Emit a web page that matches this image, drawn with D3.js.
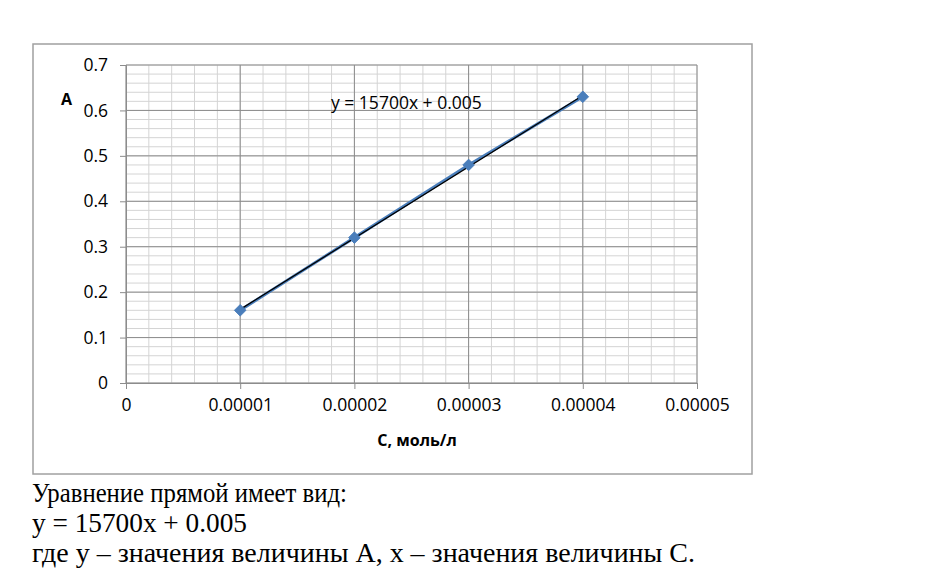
<!DOCTYPE html>
<html>
<head>
<meta charset="utf-8">
<script src="https://cdn.jsdelivr.net/npm/d3@7"></script>
<style>
  body { margin: 0; background: #fff; }
  svg text { font-family: "Open Sans", "Noto Sans", sans-serif; }
</style>
</head>
<body>
<svg id="chart" width="942" height="578"></svg>
<script>
// concentrations (моль/л) and absorbance
const concentrations = [0.00001, 0.00002, 0.00003, 0.00004];
const absorbance = [0.16, 0.32, 0.48, 0.63];
const xTicks = [0, 0.00001, 0.00002, 0.00003, 0.00004, 0.00005];
const xTickLabels = ["0", "0.00001", "0.00002", "0.00003", "0.00004", "0.00005"];
const yTicks = [0, 0.1, 0.2, 0.3, 0.4, 0.5, 0.6, 0.7];
const trendSlope = 15700;
const trendIntercept = 0.005;
const trendLabel = "y = 15700x + 0.005";
const bodyLines = [
    "Уравнение прямой имеет вид:",
    "y = 15700x + 0.005",
    "где y – значения величины A, x – значения величины C."
];
const bodyWidths = [315, 215, 663]; // measured line lengths in the picture

const svg = d3.select("#chart");

// outer chart frame
svg.append("rect")
    .attr("x", 33).attr("y", 44)
    .attr("width", 719).attr("height", 430)
    .attr("fill", "#fff")
    .attr("stroke", "#a0a0a0")
    .attr("stroke-width", 1.5);

const x = d3.scaleLinear().domain([0, 0.00005]).range([126, 697]);
const y = d3.scaleLinear().domain([0, 0.7]).range([383, 65]);

// minor grid
const minorX = d3.range(0, 26).map(i => i * 0.000002);
const minorY = d3.range(0, 36).map(i => i * 0.02);
const grid = svg.append("g");
grid.selectAll(".mx").data(minorX).enter().append("line")
    .attr("x1", d => x(d)).attr("x2", d => x(d))
    .attr("y1", y(0)).attr("y2", y(0.7))
    .attr("stroke", "#d4d4d4").attr("stroke-width", 1);
grid.selectAll(".my").data(minorY).enter().append("line")
    .attr("x1", x(0)).attr("x2", x(0.00005))
    .attr("y1", d => y(d)).attr("y2", d => y(d))
    .attr("stroke", "#d4d4d4").attr("stroke-width", 1);

// major grid
grid.selectAll(".Mx").data(xTicks).enter().append("line")
    .attr("x1", d => x(d)).attr("x2", d => x(d))
    .attr("y1", y(0)).attr("y2", y(0.7))
    .attr("stroke", "#8c8c8c").attr("stroke-width", 1);
grid.selectAll(".My").data(yTicks).enter().append("line")
    .attr("x1", x(0)).attr("x2", x(0.00005))
    .attr("y1", d => y(d)).attr("y2", d => y(d))
    .attr("stroke", "#8c8c8c").attr("stroke-width", 1);

// axes
const xAxis = svg.append("g")
    .attr("transform", `translate(0,${y(0)})`)
    .call(d3.axisBottom(x).tickValues(xTicks)
        .tickFormat((d, i) => xTickLabels[i]).tickSize(6).tickPadding(10));
const yAxis = svg.append("g")
    .attr("transform", `translate(${x(0)},0)`)
    .call(d3.axisLeft(y).tickValues(yTicks)
        .tickFormat(d => d === 0 ? "0" : d3.format(".1f")(d)).tickSize(6).tickPadding(12));
[xAxis, yAxis].forEach(a => {
    a.select(".domain").attr("stroke", "#8c8c8c");
    a.selectAll(".tick line").attr("stroke", "#8c8c8c");
    a.selectAll("text").attr("font-size", 17.5).attr("fill", "#000")
        .style("font-family", "'Open Sans', sans-serif");
});

// data line
const pts = concentrations.map((c, i) => [c, absorbance[i]]);
svg.append("path")
    .datum(pts)
    .attr("fill", "none")
    .attr("stroke", "#4a7ebb")
    .attr("stroke-width", 3)
    .attr("d", d3.line().x(d => x(d[0])).y(d => y(d[1])));

// linear trendline
const trendX = [concentrations[0], concentrations[concentrations.length - 1]];
svg.append("line")
    .attr("x1", x(trendX[0])).attr("y1", y(trendSlope * trendX[0] + trendIntercept))
    .attr("x2", x(trendX[1])).attr("y2", y(trendSlope * trendX[1] + trendIntercept))
    .attr("stroke", "#000").attr("stroke-width", 1.3);

// diamond markers
svg.selectAll(".pt").data(pts).enter().append("path")
    .attr("transform", d => `translate(${x(d[0])},${y(d[1])})`)
    .attr("d", d3.symbol(d3.symbolDiamond2, 85))
    .attr("fill", "#4a7ebb")
    .attr("stroke", "#4a7ebb");

// labels
svg.append("text").attr("x", 331).attr("y", 109)
    .attr("font-size", 17.5).text(trendLabel);
svg.append("text").attr("x", 61).attr("y", 105)
    .attr("font-size", 16).attr("font-weight", "bold").text("A");
svg.append("text").attr("x", 417).attr("y", 446)
    .attr("text-anchor", "middle")
    .attr("font-size", 16).attr("font-weight", "bold").text("С, моль/л");

// text below the chart
svg.selectAll(".body").data(bodyLines).enter().append("text")
    .attr("x", 32)
    .attr("y", (d, i) => 502 + i * 30)
    .style("font-family", "'Liberation Serif', 'Times New Roman', serif")
    .attr("font-size", 27)
    .attr("textLength", (d, i) => bodyWidths[i])
    .attr("lengthAdjust", "spacingAndGlyphs")
    .text(d => d);
</script>
</body>
</html>
